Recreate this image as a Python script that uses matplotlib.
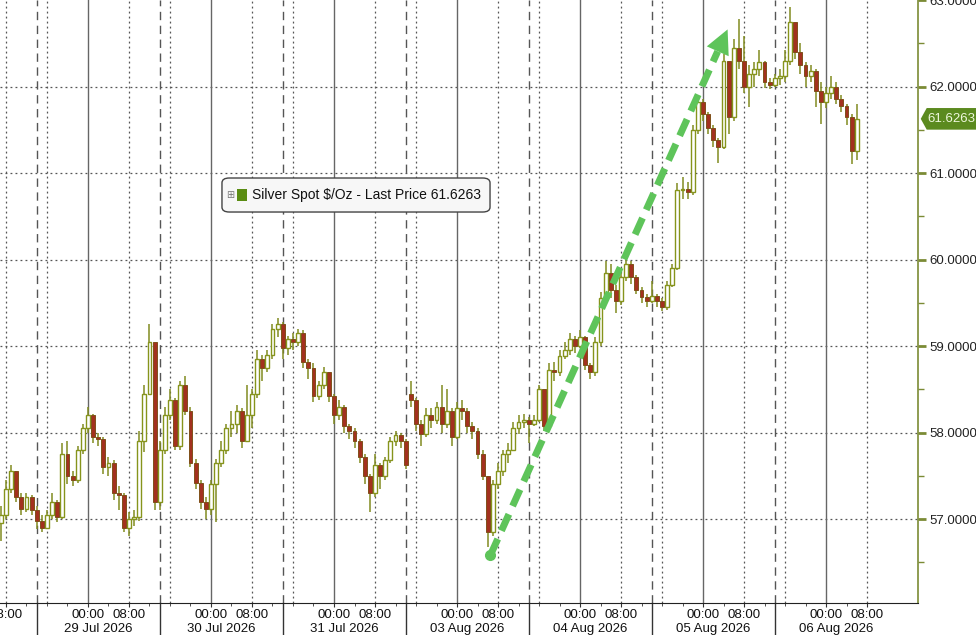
import numpy as np
import matplotlib
matplotlib.use('Agg')
import matplotlib.pyplot as plt
from matplotlib.patches import Polygon, FancyBboxPatch
from matplotlib.ticker import FormatStrFormatter, FixedLocator
from matplotlib.transforms import blended_transform_factory

plt.rcParams['font.family'] = ['Liberation Sans', 'DejaVu Sans']

# ---- data -------------------------------------------------------------------
# hourly bars, hour 0 = 28 Jul 00:00, weekend removed (31 Jul -> 03 Aug)
days = ['28 Jul 2026', '29 Jul 2026', '30 Jul 2026', '31 Jul 2026',
        '03 Aug 2026', '04 Aug 2026', '05 Aug 2026', '06 Aug 2026']
hours = np.arange(7, 175)
first_open = 56.95
aug03_first_hour = 87
aug03_open = 58.45
last_price = 61.6263

close = [57.05, 57.35, 57.55, 57.25, 57.12, 57.25, 57.10, 56.98, 56.90, 57.05, 57.20, 57.02,
         57.75, 57.50, 57.45, 57.80, 58.05, 58.20, 57.95, 57.92, 57.60, 57.65, 57.30, 57.28,
         56.90, 57.00, 57.02, 57.90, 58.45, 59.05, 57.20, 57.80, 58.20, 58.38, 57.85, 58.55,
         58.25, 57.65, 57.42, 57.20, 57.12, 57.40, 57.65, 57.80, 58.05, 58.10, 58.25, 57.90,
         58.20, 58.45, 58.85, 58.75, 58.90, 59.20, 59.25, 58.98, 59.08, 59.05, 59.15, 58.82,
         58.75, 58.42, 58.55, 58.70, 58.42, 58.20, 58.30, 58.08, 58.02, 57.90, 57.72, 57.50,
         57.30, 57.62, 57.50, 57.68, 57.90, 57.97, 57.90, 57.62,
         58.38, 58.10, 57.98, 58.20, 58.15, 58.30, 58.10, 58.25, 57.95, 58.28, 58.25, 58.08,
         58.02, 57.75, 57.50, 56.85, 57.40, 57.55, 57.75, 57.80, 58.05, 58.12, 58.15, 58.10,
         58.15, 58.50, 58.08, 58.72, 58.70, 58.88, 58.95, 59.08, 59.00, 59.10, 58.78, 58.70,
         59.05, 59.55, 59.85, 59.65, 59.52, 59.80, 59.95, 59.80, 59.65, 59.57, 59.52, 59.58,
         59.52, 59.45, 59.70, 59.90, 60.80, 60.82, 60.78, 61.50, 61.82, 61.68, 61.52, 61.38,
         61.30, 62.30, 61.65, 62.45, 62.30, 62.00, 62.15, 62.20, 62.28, 62.05, 62.02, 62.10,
         62.12, 62.30, 62.75, 62.40, 62.25, 62.12, 62.18, 61.95, 61.82, 61.92, 62.00, 61.85,
         61.78, 61.65, 61.25, 61.6263]
high = [57.15, 57.45, 57.62, 57.55, 57.30, 57.30, 57.28, 57.15, 57.05, 57.10, 57.30, 57.22,
        57.88, 57.90, 57.55, 57.85, 58.10, 58.30, 58.22, 58.00, 57.95, 57.72, 57.68, 57.38,
        57.30, 57.08, 57.10, 58.02, 58.55, 59.26, 59.00, 57.90, 58.30, 58.50, 58.40, 58.60,
        58.65, 58.30, 57.70, 57.45, 57.25, 57.45, 57.70, 57.90, 58.10, 58.25, 58.32, 58.28,
        58.55, 58.50, 58.95, 58.90, 58.95, 59.25, 59.32, 59.28, 59.12, 59.15, 59.20, 59.18,
        58.85, 58.80, 58.60, 58.76, 58.70, 58.45, 58.38, 58.32, 58.10, 58.05, 57.92, 57.75,
        57.52, 57.75, 57.65, 57.72, 57.95, 58.02, 58.00, 57.92,
        58.60, 58.40, 58.15, 58.28, 58.28, 58.35, 58.55, 58.50, 58.28, 58.35, 58.38, 58.28,
        58.12, 58.05, 57.80, 57.50, 57.45, 57.65, 57.80, 57.88, 58.12, 58.20, 58.22, 58.18,
        58.20, 58.55, 58.45, 58.80, 58.82, 58.95, 59.05, 59.15, 59.12, 59.18, 59.12, 58.80,
        59.10, 59.62, 59.98, 59.95, 59.70, 59.85, 60.05, 59.98, 59.82, 59.68, 59.60, 59.75,
        59.60, 59.55, 59.75, 59.95, 60.88, 60.95, 60.90, 61.55, 61.90, 61.85, 61.70, 61.55,
        61.40, 62.38, 62.30, 62.55, 62.78, 62.58, 62.25, 62.28, 62.42, 62.30, 62.10, 62.15,
        62.20, 62.42, 62.92, 62.72, 62.50, 62.28, 62.25, 62.20, 62.05, 62.00, 62.12, 62.05,
        61.90, 61.80, 61.68, 61.80]
low = [56.75, 57.00, 57.30, 57.20, 57.05, 57.08, 57.05, 56.88, 56.85, 56.88, 57.00, 56.97,
       57.00, 57.40, 57.38, 57.42, 57.75, 58.00, 57.88, 57.85, 57.52, 57.50, 57.22, 57.10,
       56.85, 56.80, 56.92, 56.98, 57.78, 58.45, 57.10, 57.10, 57.75, 58.15, 57.80, 57.80,
       58.20, 57.60, 57.35, 57.12, 57.00, 57.05, 56.97, 57.60, 57.75, 57.95, 58.00, 57.82,
       57.90, 58.05, 58.40, 58.60, 58.70, 58.85, 59.10, 58.85, 58.90, 58.95, 59.00, 58.75,
       58.62, 58.35, 58.38, 58.50, 58.35, 58.10, 58.15, 58.00, 57.92, 57.82, 57.65, 57.40,
       57.08, 57.25, 57.35, 57.45, 57.65, 57.85, 57.82, 57.58,
       58.30, 58.02, 57.85, 57.95, 58.05, 58.10, 58.00, 58.05, 57.85, 57.92, 58.15, 58.00,
       57.92, 57.70, 57.45, 56.68, 56.80, 57.35, 57.50, 57.65, 57.80, 57.98, 58.05, 57.88,
       58.08, 58.12, 58.02, 58.05, 58.60, 58.65, 58.85, 58.90, 58.92, 58.98, 58.72, 58.62,
       58.65, 59.00, 59.50, 59.55, 59.38, 59.48, 59.75, 59.72, 59.60, 59.50, 59.45, 59.50,
       59.45, 59.40, 59.42, 59.68, 59.88, 60.70, 60.70, 60.75, 61.45, 61.60, 61.45, 61.30,
       61.12, 61.28, 61.45, 61.60, 62.20, 61.92, 61.76, 62.00, 62.12, 61.98, 61.97, 62.00,
       62.02, 62.05, 62.25, 62.32, 62.15, 62.00, 62.05, 61.76, 61.57, 61.75, 61.85, 61.80,
       61.70, 61.55, 61.10, 61.15]

# trend arrow (annotation, data coordinates)
arrow_start = (102.5, 56.58)
arrow_end = (148.8, 62.66)

# ---- figure -----------------------------------------------------------------
fig = plt.figure(figsize=(9.76, 6.35), dpi=100)
ax = fig.add_axes([0, 1 - 603 / 635, 918 / 976, 603 / 635])

c = np.array(close)
hi = np.array(high)
lo = np.array(low)
o = np.r_[first_open, c[:-1]]
o[hours == aug03_first_hour] = aug03_open
up = c >= o

up_edge = '#86941c'
down_face = '#a3311f'
down_edge = '#80501a'
ax.vlines(hours, lo, hi, color='#818c20', lw=1.1, zorder=3)
ax.bar(hours[up], (c - o)[up], bottom=o[up], width=0.74, facecolor='white',
       edgecolor=up_edge, lw=1.0, zorder=4)
ax.bar(hours[~up], (o - c)[~up], bottom=c[~up], width=0.74, facecolor=down_face,
       edgecolor=down_edge, lw=0.7, zorder=4)

# grid: horizontal dotted, vertical every 8h (00:00 solid), dashed session breaks
for p in range(57, 63):
    ax.axhline(p, color='#555555', lw=0.9, ls=(0, (1.5, 2.5)), zorder=1)
for g in range(8, 177, 8):
    if g % 24 == 0:
        ax.axvline(g, color='#666666', lw=1, zorder=1)
    else:
        ax.axvline(g, color='#555555', lw=0.9, ls=(0, (1.5, 2.5)), zorder=1)
breaks = [24 * k + 14 for k in range(7)]
for b in breaks:
    ax.axvline(b, color='#555555', lw=1, ls=(0, (6, 4)), zorder=1)

# spines
for s in ['top', 'left']:
    ax.spines[s].set_visible(False)
ax.spines['bottom'].set_color('#222222')
ax.spines['right'].set_color('#7b8b35')
ax.spines['right'].set_linewidth(1.2)

# y axis on the right
ax.yaxis.tick_right()
ax.set_yticks(np.arange(57, 64))
ax.yaxis.set_minor_locator(FixedLocator(np.arange(56.5, 63, 1.0)))
ax.yaxis.set_major_formatter(FormatStrFormatter('%.4f'))
ax.tick_params(axis='y', which='major', length=6, width=2, color='#7b8b35',
               pad=2, labelsize=9.5, labelcolor='#222222')
ax.tick_params(axis='y', which='minor', length=4, width=1, color='#7b8b35')

# x axis: 00:00 / 08:00 labels, dates centred in each session
xt = []
xl = []
for k in range(8):
    xt += [24 * k, 24 * k + 8]
    xl += ['00:00', '08:00']
ax.set_xticks(xt)
ax.set_xticklabels(xl)
ax.xaxis.set_minor_locator(FixedLocator(np.arange(0, 177, 4)))
ax.tick_params(axis='x', which='major', length=3, color='#333333', pad=1,
               labelsize=9.5, labelcolor='#111111')
ax.tick_params(axis='x', which='minor', length=2.5, color='#333333')

# limits last, after ticks (set_xticks would widen them)
ax.set_xlim(6.83, 185.95)
ax.set_ylim(56.03, 63.0)

bt = blended_transform_factory(ax.transData, ax.transAxes)
for k in range(1, 8):
    ax.text(24 * k + 2, -0.0435, days[k], transform=bt, ha='center', va='center',
            fontsize=9.5, color='#111111', clip_on=False)
for b in breaks:
    ax.plot([b, b], [0, -0.06], transform=bt, color='#333333', lw=1, clip_on=False)

# ---- green dashed trend arrow ----------------------------------------------
arrow_col = '#5ec45a'
p0 = ax.transData.transform(arrow_start)
p1 = ax.transData.transform(arrow_end)
d = (p1 - p0) / np.hypot(*(p1 - p0))
n = np.array([-d[1], d[0]])
base = p1 - d * 24
inv = ax.transData.inverted()
b_data = inv.transform(base)
ax.plot([arrow_start[0], b_data[0]], [arrow_start[1], b_data[1]], color=arrow_col,
        lw=5, dashes=(2.6, 1.3), solid_capstyle='butt', zorder=6)
ax.plot(*arrow_start, 'o', ms=7, color=arrow_col, zorder=6)
head = inv.transform(np.array([p1, base + n * 12, base - n * 12]))
ax.add_patch(Polygon(head, closed=True, fc=arrow_col, ec='none', zorder=6))

# ---- legend box ---------------------------------------------------------------
ax.add_patch(FancyBboxPatch((0.2418, 0.6484), 0.292, 0.0564,
                            boxstyle='round,pad=0,rounding_size=0.008',
                            transform=ax.transAxes, fc='#f7f7f7', ec='#444444',
                            lw=1, zorder=8))
ax.text(0.2505, 0.6758, '\u229e', transform=ax.transAxes, ha='center', va='center',
        fontsize=7, color='#777777', family='DejaVu Sans', zorder=9)
ax.add_patch(plt.Rectangle((0.2582, 0.6667), 0.0109, 0.0199, transform=ax.transAxes,
                           fc='#5a8c12', ec='none', zorder=9))
ax.text(0.2745, 0.6758, 'Silver Spot $/Oz - Last Price 61.6263', transform=ax.transAxes,
        ha='left', va='center', fontsize=10, color='#111111', zorder=9)

# ---- last price tag ------------------------------------------------------------
tt = blended_transform_factory(ax.transAxes, ax.transData)
hh = 0.125
tag = Polygon([(1.003, last_price), (1.0095, last_price + hh), (1.07, last_price + hh),
               (1.07, last_price - hh), (1.0095, last_price - hh)], closed=True,
              transform=tt, fc='#5b8a1f', ec='none', clip_on=False, zorder=9)
ax.add_patch(tag)
ax.text(1.0105, last_price, '%.4f' % last_price, transform=tt, ha='left', va='center',
        fontsize=9.5, color='#eef7dd', clip_on=False, zorder=10)

fig.savefig('out.png', dpi=100)
